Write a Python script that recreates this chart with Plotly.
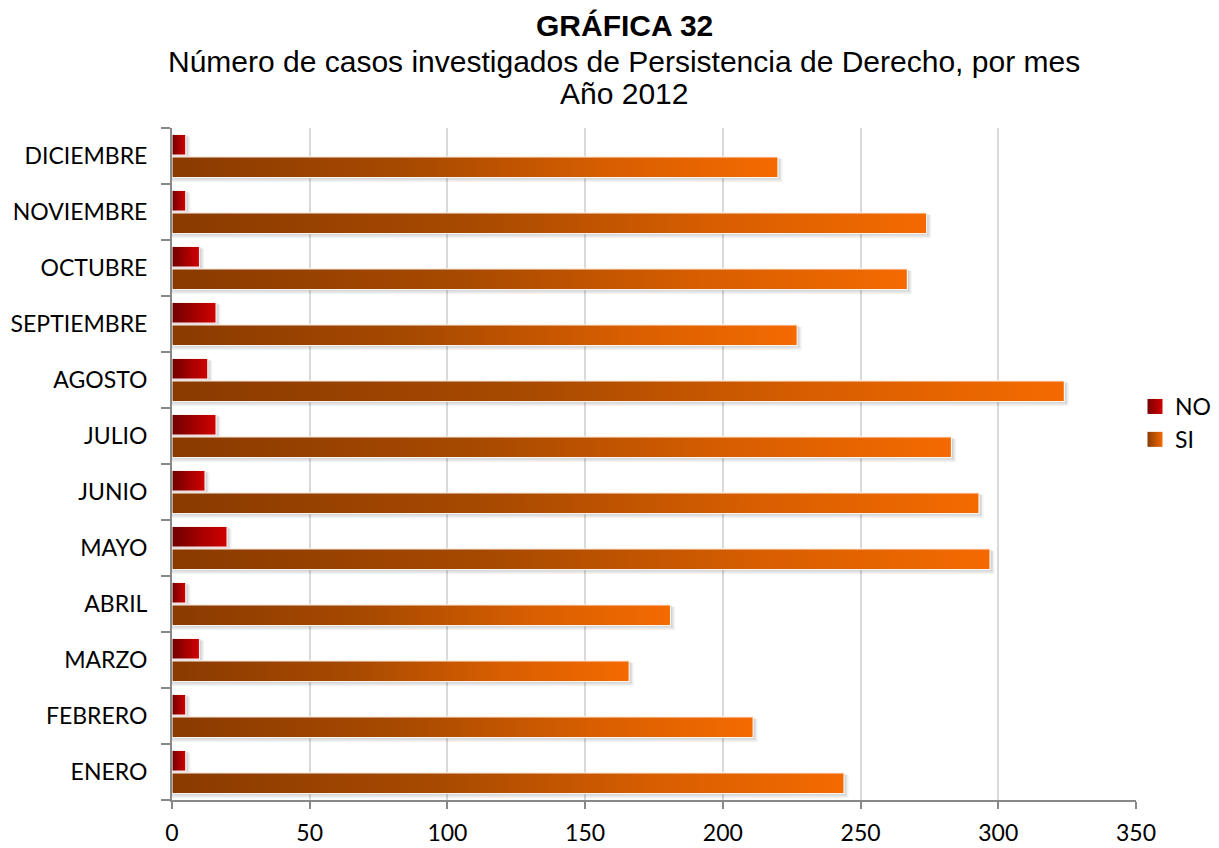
import plotly.graph_objects as go

# Monthly counts of investigated cases, 2012
meses = ["ENERO", "FEBRERO", "MARZO", "ABRIL", "MAYO", "JUNIO",
         "JULIO", "AGOSTO", "SEPTIEMBRE", "OCTUBRE", "NOVIEMBRE", "DICIEMBRE"]
casos_si = [244, 211, 166, 181, 297, 293, 283, 324, 227, 267, 274, 220]
casos_no = [5, 5, 10, 5, 20, 12, 16, 13, 16, 10, 5, 5]
x_ticks = [0, 50, 100, 150, 200, 250, 300, 350]

titulo = "GRÁFICA 32"
subtitulo = "Número de casos investigados de Persistencia de Derecho, por mes"
anio = "Año 2012"

# Layout geometry (pixels) used to convert shadow offsets into data units
PLOT_LEFT, PLOT_RIGHT, PLOT_TOP, PLOT_BOTTOM = 172, 1136, 128, 800
X_MAX = 350
PX_PER_X = (PLOT_RIGHT - PLOT_LEFT) / X_MAX
PX_PER_Y = (PLOT_BOTTOM - PLOT_TOP) / len(meses)
PX_PAPER_Y = PLOT_BOTTOM - PLOT_TOP

HALF = 0.185   # half bar thickness in category units
OFFSET = 0.20  # distance of each bar centre from the category centre

NO_SCALE = [[0, "#6e0000"], [0.55, "#a80000"], [1, "#d00000"]]
SI_SCALE = [[0, "#8a3a00"], [0.4, "#a84a00"], [0.72, "#d85e00"], [1, "#f46a00"]]

series = [
    ("NO", casos_no, OFFSET, NO_SCALE, "#7a0000", "#d00000"),
    ("SI", casos_si, -OFFSET, SI_SCALE, "#8a3a00", "#f46a00"),
]


def rect(x0, x1, y0, y1):
    return [x0, x1, x1, x0, x0], [y0, y0, y1, y1, y0]


fig = go.Figure()

# soft drop shadows behind every bar
for _, values, off, *_ in series:
    for i, v in enumerate(values):
        c = i + off
        for d, alpha in [(4.5, 0.05), (3.0, 0.07), (1.5, 0.08)]:
            xs, ys = rect(0, v + d / PX_PER_X,
                          c - HALF - d / PX_PER_Y, c + HALF - 0.5 * d / PX_PER_Y)
            fig.add_trace(go.Scatter(
                x=xs, y=ys, fill="toself", mode="none",
                fillcolor=f"rgba(0,0,0,{alpha})",
                showlegend=False, hoverinfo="skip"))

# gradient-filled bars
for name, values, off, scale, _, _ in series:
    for i, v in enumerate(values):
        c = i + off
        xs, ys = rect(0, v, c - HALF, c + HALF)
        fig.add_trace(go.Scatter(
            x=xs, y=ys, fill="toself", mode="lines",
            line=dict(color="rgba(255,255,255,0.9)", width=1.2),
            fillgradient=dict(type="horizontal", colorscale=scale),
            name=name, showlegend=False,
            hovertemplate=f"{meses[i]} {name}: {v}<extra></extra>"))

# legend entries
for name, _, _, _, c0, c1 in series:
    fig.add_trace(go.Scatter(
        x=[None], y=[None], mode="markers", name=name,
        marker=dict(symbol="square", size=15, color=c0,
                    gradient=dict(type="horizontal", color=c1),
                    line=dict(width=0))))

label_font = dict(family="Lato, Arial, sans-serif", size=23, color="#000000")
title_family = "Liberation Sans, Arial, sans-serif"


def paper_y(px):
    return (PLOT_BOTTOM - px) / PX_PAPER_Y


heading = [
    (f"<b>{titulo}</b>", 25),
    (subtitulo, 61),
    (anio, 94),
]
for text, cy in heading:
    fig.add_annotation(
        text=text, xref="paper", yref="paper",
        x=(624 - PLOT_LEFT) / (PLOT_RIGHT - PLOT_LEFT), y=paper_y(cy),
        xanchor="center", yanchor="middle", showarrow=False,
        font=dict(family=title_family, size=30, color="#000000"))

fig.update_layout(
    width=1219, height=848,
    paper_bgcolor="white", plot_bgcolor="white",
    margin=dict(l=PLOT_LEFT, r=1219 - PLOT_RIGHT, t=PLOT_TOP,
                b=848 - PLOT_BOTTOM, autoexpand=False),
    showlegend=True,
    legend=dict(
        x=(1135 - PLOT_LEFT) / (PLOT_RIGHT - PLOT_LEFT), xanchor="left",
        y=paper_y(423), yanchor="middle",
        font=label_font, bgcolor="rgba(0,0,0,0)",
        traceorder="normal", itemclick=False,
    ),
    xaxis=dict(
        range=[0, X_MAX], tickvals=x_ticks, ticktext=[str(t) for t in x_ticks],
        showgrid=True, gridcolor="#d9d9d9", gridwidth=2, zeroline=False,
        showline=True, linecolor="#888888", linewidth=2,
        ticks="outside", ticklen=7, tickwidth=2, tickcolor="#888888",
        ticklabelstandoff=4,
        tickfont=dict(family="Lato, Arial, sans-serif", size=23, color="#000000"),
        fixedrange=True,
    ),
    yaxis=dict(
        range=[-0.5, len(meses) - 0.5],
        tickvals=list(range(len(meses))), ticktext=meses,
        showgrid=False, zeroline=False,
        showline=True, linecolor="#888888", linewidth=2,
        ticks="outside", ticklen=9, tickcolor="rgba(0,0,0,0)",
        minor=dict(tickmode="array",
                   tickvals=[k - 0.5 for k in range(len(meses) + 1)],
                   ticks="outside", ticklen=9, tickwidth=2, tickcolor="#888888",
                   showgrid=False),
        ticklabelstandoff=9,
        tickfont=label_font, fixedrange=True,
    ),
)

fig.write_html("out.html")
